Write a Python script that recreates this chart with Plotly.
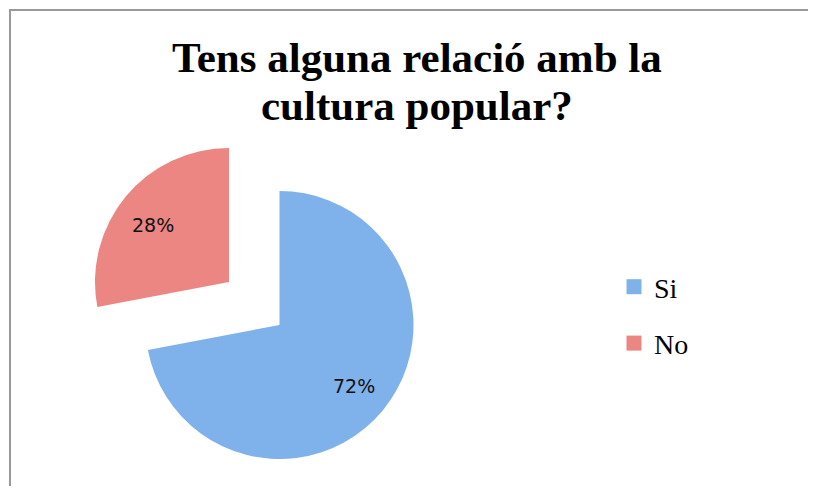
import math
import plotly.graph_objects as go

categories = ["Si", "No"]
values = [72, 28]
colors = ["#7fb1ea", "#eb8682"]
title_lines = ["Tens alguna relació amb la", "cultura popular?"]

total = sum(values)
pct = [f"{round(v * 100 / total)}%" for v in values]

# page offset of the plot div (body margin) and figure size
OX, OY = 8, 8
W, H = 800, 478

def px(x):
    return (x - OX) / W

def py(y):
    return 1 - (y - OY) / H

def dom(cx, cy, r):
    return dict(x=[px(cx - r), px(cx + r)], y=[py(cy + r), py(cy - r)])

R = 134
centers = [(279.5, 325), (229, 282)]  # main pie, exploded slice
label_frac = [0.72, 0.74]

fig = go.Figure()
annotations = []
cum = 0
for i, (c, v) in enumerate(zip(categories, values)):
    cols = ["rgba(0,0,0,0)"] * len(values)
    cols[i] = colors[i]
    cx, cy = centers[i]
    fig.add_trace(go.Pie(
        labels=categories, values=values, sort=False, direction="clockwise", rotation=0,
        marker=dict(colors=cols, line=dict(width=0)),
        textinfo="none", domain=dom(cx, cy, R), showlegend=False, hoverinfo="skip",
    ))
    mid = (cum + v / 2) / total * 2 * math.pi
    cum += v
    tx = cx + label_frac[i] * R * math.sin(mid)
    ty = cy - label_frac[i] * R * math.cos(mid) + (6 if i == 1 else 0)
    annotations.append(dict(text=pct[i], x=px(tx), y=py(ty), xref="paper", yref="paper",
                            showarrow=False, xanchor="center", yanchor="middle",
                            font=dict(family="DejaVu Sans", size=19, color="#111111")))

# Legend entries
for c, col in zip(categories, colors):
    fig.add_trace(go.Scatter(
        x=[None], y=[None], mode="markers", name=c, legendgroup=c,
        marker=dict(symbol="square", size=15, color=col),
    ))

for k, (line, yc) in enumerate(zip(title_lines, [57, 105])):
    annotations.append(dict(text=line, x=px(417), y=py(yc), xref="paper", yref="paper",
                            showarrow=False, xanchor="center", yanchor="middle",
                            font=dict(family="Liberation Serif", size=43, color="black",
                                      weight="bold")))

# chart frame drawn with the (otherwise empty) cartesian axes' lines: top and left
frame_axis = dict(visible=True, showline=True, linecolor="#999999", linewidth=2,
                  showgrid=False, zeroline=False, showticklabels=False, ticks="",
                  range=[0, 1], fixedrange=True)

fig.update_layout(
    width=W, height=H,
    margin=dict(l=0, r=0, t=0, b=0),
    paper_bgcolor="white", plot_bgcolor="white",
    xaxis=dict(frame_axis, side="top", domain=[px(11), 1]),
    yaxis=dict(frame_axis, side="left", domain=[0, py(10.5)]),
    legend=dict(x=px(614), y=py(315), xanchor="left", yanchor="middle",
                font=dict(family="Liberation Serif", size=28, color="black"),
                tracegroupgap=17, bgcolor="rgba(0,0,0,0)"),
    annotations=annotations,
)

fig.write_html("out.html")
